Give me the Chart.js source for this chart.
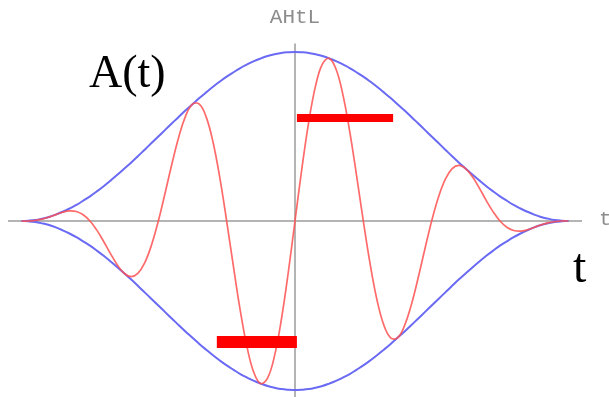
<!DOCTYPE html>
<html>
<head>
<meta charset="utf-8">
<title>A(t)</title>
<script src="https://cdn.jsdelivr.net/npm/chart.js@4/dist/chart.umd.min.js"></script>
<style>
  html, body { margin: 0; padding: 0; background: #ffffff; }
  #wrap { position: relative; width: 609px; height: 397px; overflow: hidden; background: #ffffff; }
  #wrap canvas { display: block; }
  .lbl { position: absolute; margin: 0; white-space: nowrap; line-height: 1; }
  #labelA { left: 89px; top: 48.5px; font-family: "Liberation Serif", "Times New Roman", serif; font-size: 46px; color: #000; }
  #labelT { left: 573px; top: 242px; font-family: "Liberation Serif", "Times New Roman", serif; font-size: 48px; color: #000; }
  #axisT { left: 599px; top: 209px; font-family: "Liberation Mono", monospace; font-size: 21px; color: #8c8c8c; }
</style>
</head>
<body>
<div id="wrap">
  <canvas id="chart" width="609" height="397"></canvas>
  <div class="lbl" id="labelA">A(t)</div>
  <div class="lbl" id="labelT">t</div>
  <div class="lbl" id="axisT">t</div>
</div>
<script>
// time samples of the wave packet
const tValues = [
  -1.000, -0.975, -0.950, -0.925, -0.900, -0.875, -0.850, -0.825, -0.800, -0.775,
  -0.750, -0.725, -0.700, -0.675, -0.650, -0.625, -0.600, -0.575, -0.550, -0.525,
  -0.500, -0.475, -0.450, -0.425, -0.400, -0.375, -0.350, -0.325, -0.300, -0.275,
  -0.250, -0.225, -0.200, -0.175, -0.150, -0.125, -0.100, -0.075, -0.050, -0.025,
   0.000,
   0.025,  0.050,  0.075,  0.100,  0.125,  0.150,  0.175,  0.200,  0.225,  0.250,
   0.275,  0.300,  0.325,  0.350,  0.375,  0.400,  0.425,  0.450,  0.475,  0.500,
   0.525,  0.550,  0.575,  0.600,  0.625,  0.650,  0.675,  0.700,  0.725,  0.750,
   0.775,  0.800,  0.825,  0.850,  0.875,  0.900,  0.925,  0.950,  0.975,  1.000
];

// envelope of the packet (upper half; the lower half mirrors it)
const envelope = [
  0.000, 0.002, 0.006, 0.014, 0.024, 0.038, 0.055, 0.074, 0.095, 0.120,
  0.146, 0.175, 0.206, 0.239, 0.273, 0.309, 0.345, 0.383, 0.422, 0.461,
  0.500, 0.539, 0.578, 0.617, 0.655, 0.691, 0.727, 0.761, 0.794, 0.825,
  0.854, 0.880, 0.905, 0.926, 0.946, 0.962, 0.976, 0.986, 0.994, 0.998,
  1.000,
  0.998, 0.994, 0.986, 0.976, 0.962, 0.946, 0.926, 0.905, 0.880, 0.854,
  0.825, 0.794, 0.761, 0.727, 0.691, 0.655, 0.617, 0.578, 0.539, 0.500,
  0.461, 0.422, 0.383, 0.345, 0.309, 0.273, 0.239, 0.206, 0.175, 0.146,
  0.120, 0.095, 0.074, 0.055, 0.038, 0.024, 0.014, 0.006, 0.002, 0.000
];

// oscillating amplitude A(t)
const amplitude = [
  0.000, 0.000, 0.004, 0.011, 0.023, 0.038, 0.052, 0.060, 0.056, 0.037,
  0.000, -0.054, -0.121, -0.193, -0.260, -0.309, -0.329, -0.310, -0.248, -0.142,
  0.000, 0.167, 0.340, 0.499, 0.622, 0.691, 0.691, 0.616, 0.467, 0.255,
  0.000, -0.272, -0.532, -0.749, -0.899, -0.962, -0.928, -0.798, -0.584, -0.309,
  0.000,
  0.309, 0.584, 0.798, 0.928, 0.962, 0.899, 0.749, 0.532, 0.272, 0.000,
  -0.255, -0.467, -0.616, -0.691, -0.691, -0.622, -0.499, -0.340, -0.167, 0.000,
  0.142, 0.248, 0.310, 0.329, 0.309, 0.260, 0.193, 0.121, 0.054, 0.000,
  -0.037, -0.056, -0.060, -0.052, -0.038, -0.023, -0.011, -0.004, 0.000, 0.000
];

// two red markers (start/end times and level)
const upperMarkT = [0.007, 0.359];
const upperMarkA = [0.609, 0.609];
const lowerMarkT = [-0.286, 0.007];
const lowerMarkA = [-0.716, -0.716];

const toPoints = (xs, ys) => xs.map((x, i) => ({ x: x, y: ys[i] }));

const lineStyle = { pointRadius: 0, pointHoverRadius: 0, fill: false };

// only the zero line of each scale is drawn, as the crossing axes
const axisColor = (ctx) => (ctx.tick && ctx.tick.value === 0) ? '#b4b4b4' : 'rgba(0,0,0,0)';
const onlyZero = (scale) => { scale.ticks = [{ value: 0 }]; };

new Chart(document.getElementById('chart'), {
  type: 'line',
  data: {
    datasets: [
      Object.assign({ data: toPoints(upperMarkT, upperMarkA), borderColor: '#ff0000', borderWidth: 8, borderCapStyle: 'butt', tension: 0 }, lineStyle),
      Object.assign({ data: toPoints(lowerMarkT, lowerMarkA), borderColor: '#ff0000', borderWidth: 12, borderCapStyle: 'butt', tension: 0 }, lineStyle),
      Object.assign({ data: toPoints(tValues, amplitude), borderColor: 'rgba(255,80,80,0.85)', borderWidth: 1.7, tension: 0.4 }, lineStyle),
      Object.assign({ data: toPoints(tValues, envelope), borderColor: '#6a6af4', borderWidth: 2, tension: 0.4 }, lineStyle),
      Object.assign({ data: toPoints(tValues, envelope.map(v => -v)), borderColor: '#6a6af4', borderWidth: 2, tension: 0.4 }, lineStyle)
    ]
  },
  options: {
    responsive: false,
    animation: false,
    devicePixelRatio: 1,
    events: [],
    layout: { padding: { left: 8, right: 27, top: 0, bottom: 0 } },
    plugins: {
      legend: { display: false },
      tooltip: { enabled: false },
      title: {
        display: true,
        text: 'AHtL',
        color: '#8c8c8c',
        font: { family: '"Liberation Mono", monospace', size: 21, weight: 'normal' },
        padding: { top: 4.4, bottom: 13.9 }
      }
    },
    scales: {
      x: {
        type: 'linear',
        min: -1.05,
        max: 1.05,
        afterBuildTicks: onlyZero,
        ticks: { display: false },
        grid: { drawTicks: false, color: axisColor, lineWidth: 2 },
        border: { display: false }
      },
      y: {
        type: 'linear',
        min: -1.041,
        max: 1.05,
        afterBuildTicks: onlyZero,
        ticks: { display: false },
        grid: { drawTicks: false, color: axisColor, lineWidth: 2 },
        border: { display: false }
      }
    }
  }
});
</script>
</body>
</html>
